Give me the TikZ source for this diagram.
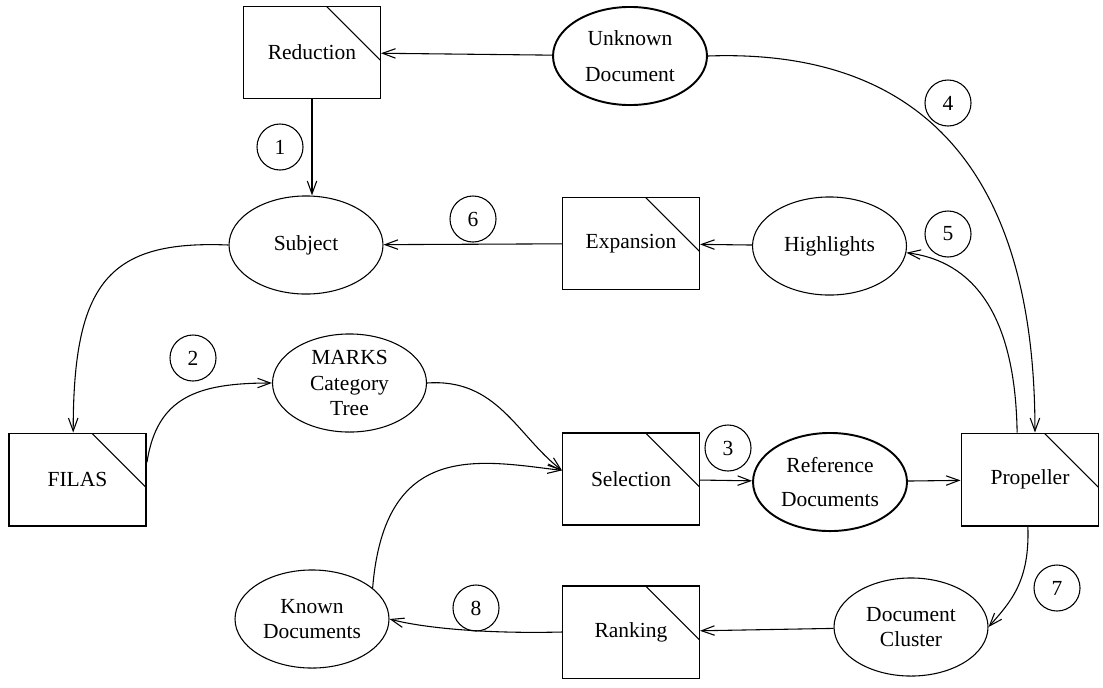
\documentclass[tikz,border=0pt]{standalone}
\usepackage{fontspec}
\setmainfont{Liberation Serif}
\usetikzlibrary{shapes.geometric,arrows.meta}

\begin{document}
\begin{tikzpicture}[x=0.465pt,y=-0.465pt,line width=0.5pt,
	>={Straight Barb[length=6pt,width=4.4pt]},
	proceso/.style={draw,rectangle,minimum width=63.7pt,minimum height=42.8pt,inner sep=0pt,
		path picture={\draw[line width=0.5pt] ([xshift=-25.1pt]path picture bounding box.north east) -- ([yshift=-25.1pt]path picture bounding box.north east);}},
	dato/.style={draw,ellipse,minimum width=71.6pt,minimum height=45.6pt,inner sep=1pt,align=center},
	paso/.style={draw,circle,minimum size=21.4pt,inner sep=0pt},
	grueso/.style={line width=0.9pt}]
	\useasboundingbox (0,0) rectangle (1103,687);
	
	% Procesos
	\node[proceso] (reduccion) at (312,52.5) {Reduction};
	\node[proceso] (expansion) at (631,243.5) {Expansion};
	\node[proceso] (seleccion) at (631,479) {Selection};
	\node[proceso] (ranking) at (631,632) {Ranking};
	\node[proceso,grueso] (filas) at (77.5,479.5) {FILAS};
	\node[proceso,grueso] (propeller) at (1030,479.5) {Propeller};
	
	% Datos
	\node[dato,grueso] (desconocido) at (630,56) {Unknown\\[5pt]Document};
	\node[dato] (tema) at (306,245) {Subject};
	\node[dato] (destacados) at (829.5,246) {Highlights};
	\node[dato,inner ysep=-1pt] (marks) at (349.5,383) {MARKS\\Category\\Tree};
	\node[dato,grueso] (referencia) at (830,482) {Reference\\[3.5pt]Documents};
	\node[dato] (conocidos) at (312,619) {Known\\Documents};
	\node[dato] (cluster) at (911,627) {Document\\Cluster};
	
	% Pasos
	\node[paso] (p1) at (280,147) {1};
	\node[paso] (p2) at (193,358) {2};
	\node[paso] (p3) at (728,448) {3};
	\node[paso] (p4) at (948,103) {4};
	\node[paso] (p5) at (948,234) {5};
	\node[paso] (p6) at (473,219) {6};
	\node[paso] (p7) at (1057,588) {7};
	\node[paso] (p8) at (476,608) {8};
	
	% Flechas
	\draw[->] (desconocido) -- (reduccion);
	\draw[->] (reduccion.south) -- (reduccion.south |- tema.north);
	\draw[->] (desconocido.east) .. controls +(193,-7) and +(0,-284) .. ([xshift=2.3pt]propeller.north);
	\draw[->] (tema.west) .. controls +(-120,-5) and +(0,-150) .. ([xshift=-2pt]filas.north);
	\draw[->] ([yshift=8pt]filas.east) .. controls +(10,-65) and +(-75,0) .. (marks.west);
	\draw[->] (marks.east) .. controls +(70,-5) and +(-45,-35) .. ([yshift=4pt]seleccion.west);
	\draw[->] (conocidos.27) .. controls +(12,-148) and +(-83,-10) .. ([yshift=4pt]seleccion.west);
	\draw[->] (seleccion) -- (referencia);
	\draw[->] (referencia) -- (propeller);
	\draw[->] ([xshift=-6pt]propeller.north) .. controls +(-2,-134) and +(55,7) .. (destacados.-5);
	\draw[->] (destacados) -- (expansion);
	\draw[->] (expansion) -- (tema);
	\draw[->] ([xshift=-1pt]propeller.south) .. controls +(2,55) and +(22,-25) .. (cluster.east);
	\draw[->] (cluster) -- (ranking);
	\draw[->] (ranking.west) .. controls +(-83,2) and +(30,8) .. (conocidos.east);
\end{tikzpicture}
\end{document}
